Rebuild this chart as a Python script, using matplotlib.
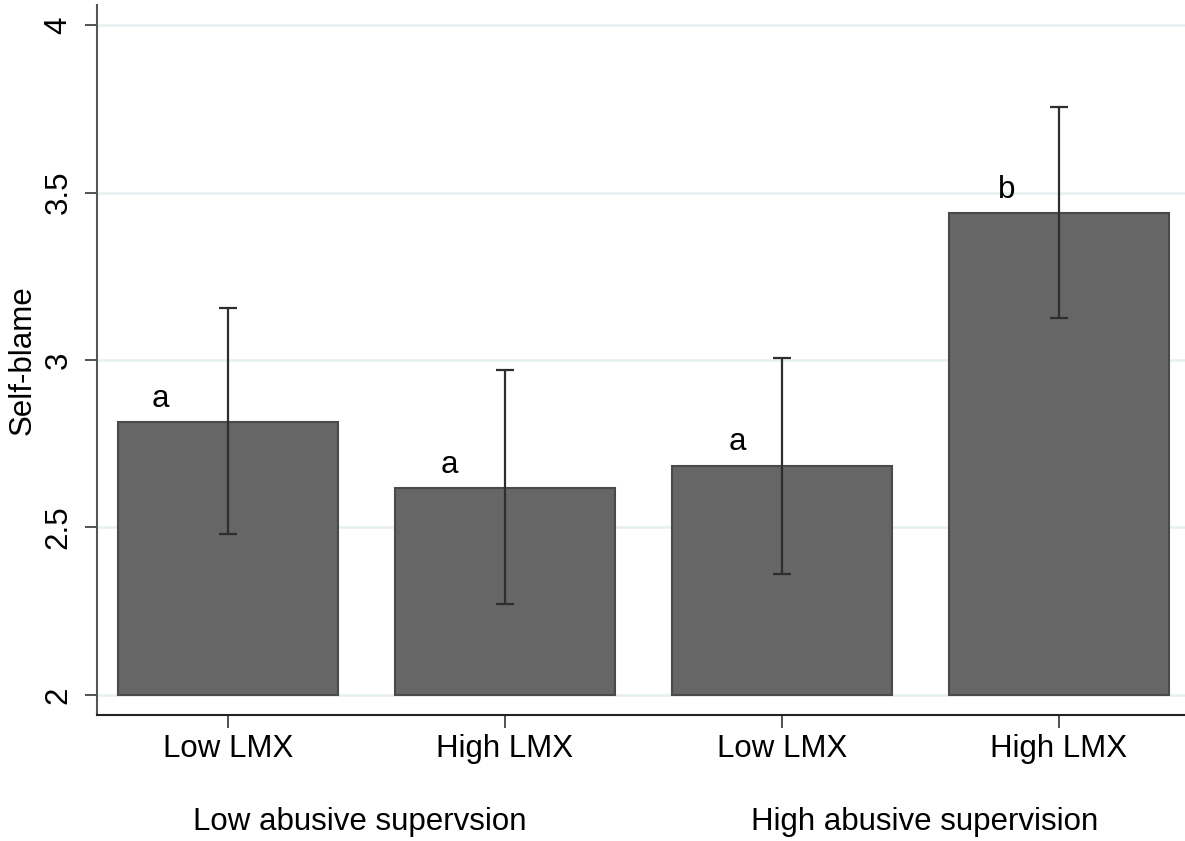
import numpy as np
import matplotlib.pyplot as plt

plt.rcParams['font.family'] = ['Liberation Sans', 'DejaVu Sans']

# data
lmx_labels = ['Low LMX', 'High LMX', 'Low LMX', 'High LMX']
group_labels = ['Low abusive supervsion', 'High abusive supervision']
means = [2.815, 2.618, 2.684, 3.439]
ci_low = [2.48, 2.272, 2.361, 3.125]
ci_high = [3.155, 2.970, 3.006, 3.755]
letters = ['a', 'a', 'a', 'b']
yticks = [2, 2.5, 3, 3.5, 4]

fig = plt.figure(figsize=(11.85, 8.41), dpi=100)
ax = fig.add_axes([0.0819, 0.1498, 0.9181, 0.8442])

x = np.arange(len(means))
base = 2.0
ax.bar(x, np.array(means) - base, bottom=base, width=0.794,
       color='#666666', edgecolor='#4a4a4a', linewidth=1.5, zorder=2)

means_a = np.array(means)
yerr = [means_a - np.array(ci_low), np.array(ci_high) - means_a]
ax.errorbar(x, means, yerr=yerr, fmt='none', ecolor='#2e2e2e',
            elinewidth=1.6, capsize=6.5, capthick=1.6, zorder=3)

fs = 22.5
offsets = [-0.245, -0.2, -0.16, -0.19]
for xi, m, lab, off in zip(x, means, letters, offsets):
    ax.text(xi + off, m + 0.025, lab, fontsize=fs, ha='center', va='bottom')

ax.set_ylim(1.94, 4.06)
ax.set_xlim(-0.473, 3.455)
ax.set_yticks(yticks)
ax.set_yticklabels(['2', '2.5', '3', '3.5', '4'], rotation=90, va='center')
ax.set_xticks(x)
ax.set_xticklabels(lmx_labels)
ax.tick_params(axis='both', labelsize=fs, length=9, width=1.2, color='#333333')
ax.tick_params(axis='y', pad=8)
ax.tick_params(axis='x', pad=5)

for yv in yticks:
    ax.axhline(yv, color='#e6f0f1', linewidth=1.8, zorder=0)

for side in ['top', 'right']:
    ax.spines[side].set_visible(False)
ax.spines['left'].set_linewidth(1.5)
ax.spines['left'].set_color('#555555')
ax.spines['bottom'].set_linewidth(1.5)
ax.spines['bottom'].set_color('#222222')

ax.set_ylabel('Self-blame', fontsize=fs, labelpad=4)

fig.text(360 / 1185, 1 - 822 / 841, group_labels[0], fontsize=fs,
         ha='center', va='center')
fig.text(925 / 1185, 1 - 822 / 841, group_labels[1], fontsize=fs,
         ha='center', va='center')

fig.savefig('out.png', dpi=100)
